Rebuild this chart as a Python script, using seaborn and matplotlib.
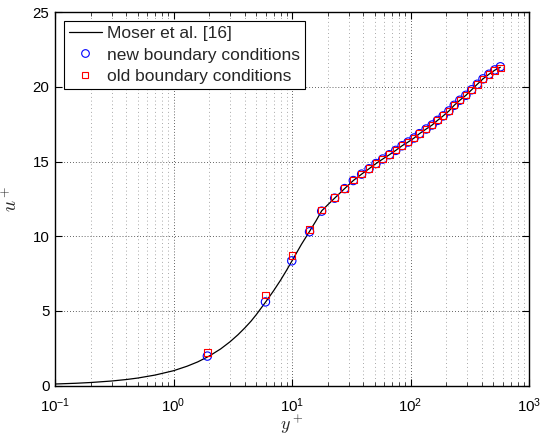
import numpy as np
import pandas as pd
import matplotlib
matplotlib.use("Agg")
import matplotlib.pyplot as plt
import seaborn as sns
from matplotlib.ticker import LogLocator, NullFormatter
from matplotlib.lines import Line2D

# ---- data ----
moser_y = [0.1, 0.15, 0.2, 0.3, 0.4, 0.5, 0.7, 1.0, 1.3, 1.6, 2.0, 2.5, 3.0, 3.5,
           4.0, 4.5, 5.0, 6.0, 7.0, 8.0, 9.0, 10.0, 12.0, 14.0, 16.0, 17.8, 20.0,
           22.9, 27.8, 32.9, 38.7, 44.7, 51.2, 58.3, 66.4, 75.1, 84.9, 95.5,
           107.3, 119.0, 135.5, 152.3, 169.0, 188.7, 211.0, 233.8, 261.0, 293.6,
           328.0, 366.0, 409.0, 459.0, 514.0, 573.0]
moser_u = [0.10, 0.15, 0.20, 0.30, 0.40, 0.50, 0.70, 0.99, 1.29, 1.58, 1.97, 2.45,
           2.93, 3.40, 3.86, 4.30, 4.75, 5.60, 6.35, 7.05, 7.72, 8.35, 9.45, 10.30,
           11.05, 11.70, 12.10, 12.55, 13.19, 13.73, 14.16, 14.52, 14.87, 15.17,
           15.46, 15.75, 16.06, 16.31, 16.58, 16.87, 17.18, 17.45, 17.76, 18.06,
           18.39, 18.77, 19.11, 19.44, 19.81, 20.18, 20.54, 20.85, 21.12, 21.32]

yplus = [1.93, 5.97, 9.96, 14.06, 17.8, 22.9, 27.8, 32.9, 38.7, 44.7, 51.2, 58.3,
         66.4, 75.1, 84.9, 95.5, 107.3, 119.0, 135.5, 152.3, 169.0, 188.7, 211.0,
         233.8, 261.0, 293.6, 328.0, 366.0, 409.0, 459.0, 514.0, 573.0]
u_new = [1.97, 5.60, 8.35, 10.30, 11.68, 12.55, 13.19, 13.73, 14.16, 14.52, 14.87,
         15.17, 15.46, 15.75, 16.06, 16.31, 16.58, 16.87, 17.18, 17.45, 17.76,
         18.06, 18.39, 18.77, 19.11, 19.44, 19.81, 20.18, 20.54, 20.85, 21.14, 21.35]
u_old = [2.22, 6.05, 8.72, 10.44, 11.76, 12.58, 13.21, 13.75, 14.17, 14.53, 14.88,
         15.18, 15.47, 15.76, 16.07, 16.32, 16.59, 16.88, 17.19, 17.46, 17.77,
         18.07, 18.40, 18.78, 19.12, 19.45, 19.81, 20.17, 20.52, 20.82, 21.10, 21.28]

labels = ["Moser et al. [16]", "new boundary conditions", "old boundary conditions"]
xticks = [0.1, 1, 10, 100, 1000]
yticks = [0, 5, 10, 15, 20, 25]

# ---- style ----
sns.set_style("ticks")
plt.rcParams["font.family"] = ["Liberation Sans", "DejaVu Sans"]
plt.rcParams["mathtext.fontset"] = "cm"

fig = plt.figure(figsize=(5.43, 4.36), dpi=100)
ax = fig.add_axes([55 / 543, 1 - 385.5 / 436, (529 - 55) / 543, (385.5 - 12.3) / 436])

df_line = pd.DataFrame({"y": moser_y, "u": moser_u})
df_new = pd.DataFrame({"y": yplus, "u": u_new})
df_old = pd.DataFrame({"y": yplus, "u": u_old})

sns.lineplot(data=df_line, x="y", y="u", ax=ax, color="black", linewidth=0.9,
             zorder=3, legend=False)
sns.scatterplot(data=df_new, x="y", y="u", ax=ax, marker="o", s=36,
                facecolors="none", edgecolor="#0000ff", linewidth=0.8,
                zorder=4, legend=False)
sns.scatterplot(data=df_old, x="y", y="u", ax=ax, marker="s", s=22,
                facecolors="none", edgecolor="#ff0000", linewidth=0.8,
                zorder=5, legend=False)

ax.set_xscale("log")
ax.set_xlim(0.1, 1000)
ax.set_ylim(0, 25)
ax.set_xticks(xticks)
ax.set_yticks(yticks)
ax.xaxis.set_minor_locator(LogLocator(base=10, subs=np.arange(2, 10), numticks=20))
ax.xaxis.set_minor_formatter(NullFormatter())

ax.grid(which="major", axis="both", color="#303030", linestyle=(0, (1, 2.5)), linewidth=0.6)
ax.grid(which="minor", axis="x", color="#8a8a8a", linestyle=(0, (1, 3.5)), linewidth=0.6)
ax.set_axisbelow(True)

for s in ax.spines.values():
    s.set_visible(True)
    s.set_linewidth(1.0)
    s.set_color("black")

ax.tick_params(which="major", direction="in", length=5, width=0.8, top=True, right=True,
               labelsize=10.8, colors="black")
ax.tick_params(which="minor", direction="in", length=2.8, width=0.6, top=True, right=True)
ax.tick_params(axis="x", which="major", pad=8)
ax.tick_params(axis="y", which="major", pad=4)

ax.set_xlabel(r"$y^+$", fontsize=13, labelpad=-1)
ax.set_ylabel(r"$u^+$", fontsize=14, labelpad=8)

handles = [
    Line2D([], [], color="black", linewidth=0.9),
    Line2D([], [], linestyle="", marker="o", markersize=5.5, markerfacecolor="none",
           markeredgecolor="#0000ff", markeredgewidth=0.8),
    Line2D([], [], linestyle="", marker="s", markersize=4.7, markerfacecolor="none",
           markeredgecolor="#ff0000", markeredgewidth=0.8),
]
leg = ax.legend(handles, labels, loc="upper left", fontsize=12.5, frameon=True,
                fancybox=False, framealpha=1, edgecolor="black", handlelength=1.9,
                handletextpad=0.3, borderaxespad=0.5, labelspacing=0.35, borderpad=0.3)
leg.get_frame().set_linewidth(0.8)

fig.savefig("out.png", dpi=100, facecolor="white")
